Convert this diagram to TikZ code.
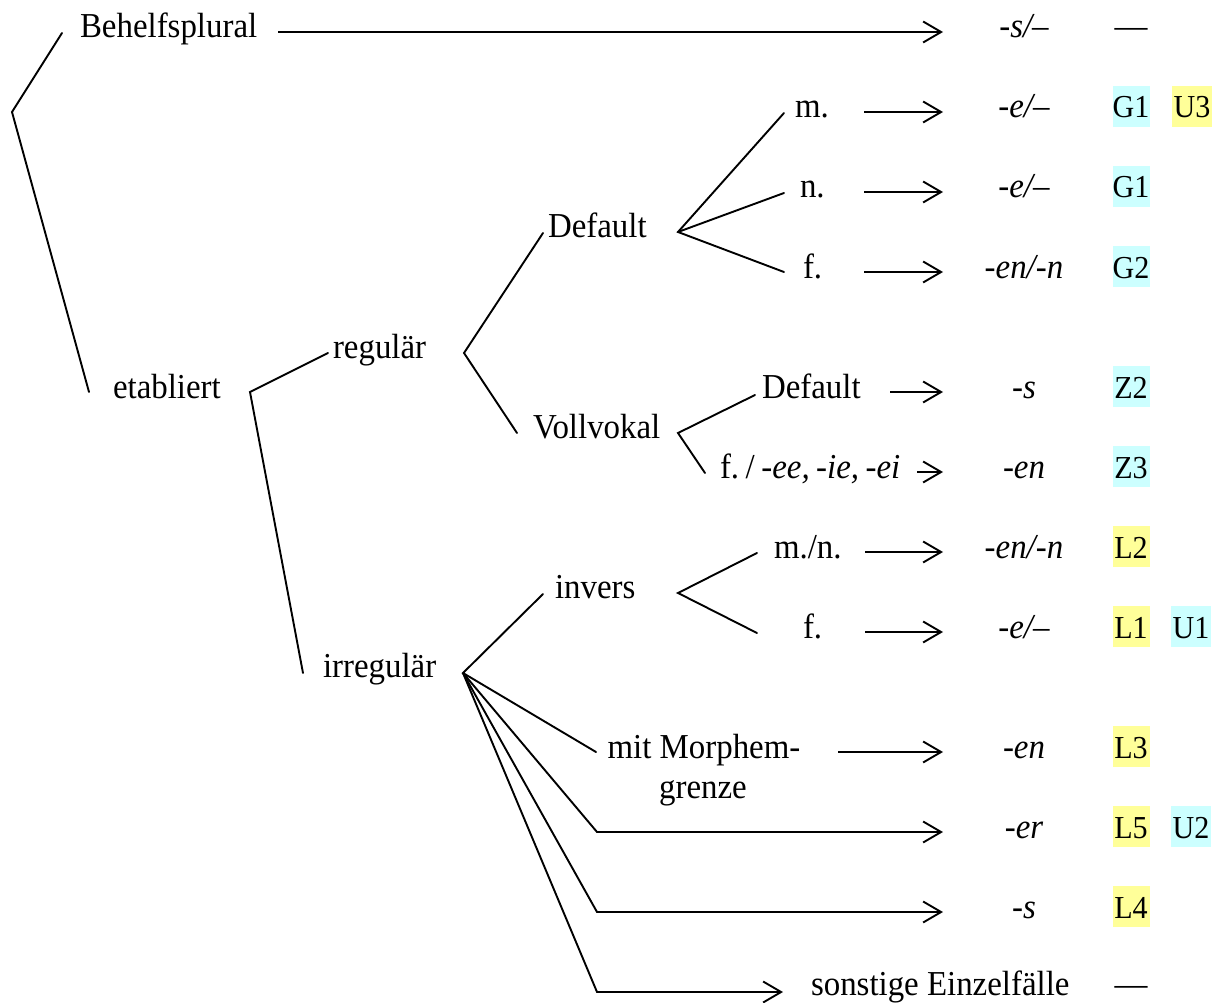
\documentclass[tikz,border=0pt]{standalone}
\usepackage{fontspec}
\setmainfont[FakeStretch=0.94]{Liberation Serif}
\usetikzlibrary{arrows.meta}
\definecolor{hlcyan}{RGB}{204,255,255}
\definecolor{hlyellow}{RGB}{255,255,153}
\newcommand{\tsp}{\hspace{6.5pt}}
\begin{document}
\begin{tikzpicture}[x=1pt,y=-1pt,
  every node/.style={inner sep=0pt, outer sep=0pt, font=\fontsize{35}{40}\selectfont},
  lbl/.style={anchor=base west},
  suf/.style={anchor=base, font=\fontsize{35}{40}\selectfont\itshape},
  branch/.style={line width=1.9pt, line cap=round, line join=miter},
  arr/.style={line width=1.9pt, line join=miter, -{Straight Barb[length=18pt,width=21pt,line width=1.9pt]}},
  tagbox/.style={anchor=base, text height=32pt, text depth=9pt, minimum width=37pt, font=\fontsize{32}{40}\selectfont},
  cyantag/.style={tagbox, fill=hlcyan},
  yellowtag/.style={tagbox, fill=hlyellow},
  utag/.style={minimum width=40pt}]
\useasboundingbox (0,0) rectangle (1213,1003);

% ---------- text nodes ----------
\node[lbl] (behelf) at (80,38) {Behelfsplural};
\node[lbl] (etab) at (113,398) {etabliert};
\node[lbl] (reg) at (333,358) {regulär};
\node[lbl] (irreg) at (323,677) {irregulär};
\node[lbl] (def) at (548,238) {Default};
\node[lbl] (voll) at (533,438) {Vollvokal};
\node[lbl] (mA) at (795,118) {m.};
\node[lbl] (nA) at (800,198) {n.};
\node[lbl] (fA) at (803,278) {f.};
\node[lbl] (defB) at (762,398) {Default};
\node[lbl] (fee) at (720,478) {f.\tsp/\tsp\textit{-ee,\tsp-ie,\tsp-ei}};
\node[lbl] (inv) at (555,598) {invers};
\node[lbl] (mn) at (774,558) {m./n.};
\node[lbl] (fB) at (803,638) {f.};
\node[anchor=base] (morphA) at (704,758) {mit Morphem-};
\node[anchor=base] (morphB) at (703,798) {grenze};
\node[lbl] (sonst) at (811,995) {sonstige Einzelfälle};

% ---------- suffixes ----------
\node[suf] (s1) at (1024,38) {-s/–};
\node[suf] (s2) at (1024,118) {-e/–};
\node[suf] (s3) at (1024,198) {-e/–};
\node[suf] (s4) at (1024,278) {-en/-n};
\node[suf] (s5) at (1024,398) {-s};
\node[suf] (s6) at (1024,478) {-en};
\node[suf] (s7) at (1024,558) {-en/-n};
\node[suf] (s8) at (1024,638) {-e/–};
\node[suf] (s9) at (1024,758) {-en};
\node[suf] (s10) at (1024,838) {-er};
\node[suf] (s11) at (1024,918) {-s};

\node[anchor=base] (dash1) at (1131,38) {—};
\node[anchor=base] (dash2) at (1131,995) {—};

% ---------- tags ----------
\node[cyantag] (tG1a) at (1131,118) {G1};
\node[yellowtag,utag] (tU3) at (1192,118) {U3};
\node[cyantag] (tG1b) at (1131,198) {G1};
\node[cyantag] (tG2) at (1131,278) {G2};
\node[cyantag] (tZ2) at (1131,398) {Z2};
\node[cyantag] (tZ3) at (1131,478) {Z3};
\node[yellowtag] (tL2) at (1131,558) {L2};
\node[yellowtag] (tL1) at (1131,638) {L1};
\node[cyantag,utag] (tU1) at (1191,638) {U1};
\node[yellowtag] (tL3) at (1131,758) {L3};
\node[yellowtag] (tL5) at (1131,838) {L5};
\node[cyantag,utag] (tU2) at (1191,838) {U2};
\node[yellowtag] (tL4) at (1131,918) {L4};

% ---------- branch coordinates ----------
\coordinate (r0) at (12,112);
\coordinate (rB) at (62,33);
\coordinate (rE) at (89,392);
\coordinate (e0) at (250,392);
\coordinate (eR) at (328,353);
\coordinate (eI) at (303,673);
\coordinate (g0) at (464,353);
\coordinate (gD) at (543,233);
\coordinate (gV) at (517,433);
\coordinate (d0) at (678,232);
\coordinate (dM) at (784,113);
\coordinate (dN) at (784,193);
\coordinate (dF) at (784,272);
\coordinate (v0) at (678,433);
\coordinate (vD) at (755,395);
\coordinate (vF) at (705,473);
\coordinate (i0) at (463,673);
\coordinate (iI) at (543,594);
\coordinate (iM) at (596,752);
\coordinate (iEr) at (597,832);
\coordinate (iS) at (597,912);
\coordinate (iSo) at (597,992);
\coordinate (n0) at (678,593);
\coordinate (nM) at (757,553);
\coordinate (nF) at (757,633);

% ---------- branches ----------
\draw[branch] (rB) -- (r0) -- (rE);
\draw[branch] (eR) -- (e0) -- (eI);
\draw[branch] (gD) -- (g0) -- (gV);
\draw[branch] (dM) -- (d0) -- (dF);
\draw[branch] (d0) -- (dN);
\draw[branch] (vD) -- (v0) -- (vF);
\draw[branch] (iI) -- (i0) -- (iM);
\draw[branch] (nM) -- (n0) -- (nF);

% ---------- arrow coordinates ----------
\coordinate (a1s) at (278,32);   \coordinate (a1e) at (943,32);
\coordinate (a2s) at (864,112);  \coordinate (a2e) at (943,112);
\coordinate (a3s) at (864,192);  \coordinate (a3e) at (943,192);
\coordinate (a4s) at (864,272);  \coordinate (a4e) at (943,272);
\coordinate (a5s) at (890,392);  \coordinate (a5e) at (943,392);
\coordinate (a6s) at (917,472);  \coordinate (a6e) at (943,472);
\coordinate (a7s) at (865,552);  \coordinate (a7e) at (943,552);
\coordinate (a8s) at (865,632);  \coordinate (a8e) at (943,632);
\coordinate (a9s) at (838,752);  \coordinate (a9e) at (943,752);
\coordinate (a10e) at (943,832);
\coordinate (a11e) at (943,912);
\coordinate (a12e) at (783,992);

% ---------- arrows ----------
\draw[arr] (a1s) -- (a1e);
\draw[arr] (a2s) -- (a2e);
\draw[arr] (a3s) -- (a3e);
\draw[arr] (a4s) -- (a4e);
\draw[arr] (a5s) -- (a5e);
\draw[arr] (a6s) -- (a6e);
\draw[arr] (a7s) -- (a7e);
\draw[arr] (a8s) -- (a8e);
\draw[arr] (a9s) -- (a9e);
\draw[arr] (i0) -- (iEr) -- (a10e);
\draw[arr] (i0) -- (iS) -- (a11e);
\draw[arr] (i0) -- (iSo) -- (a12e);
\end{tikzpicture}
\end{document}
